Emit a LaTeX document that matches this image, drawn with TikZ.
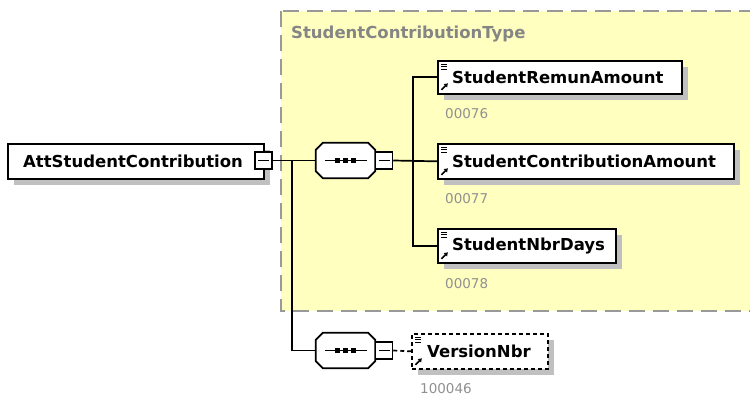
\documentclass[tikz,border=0pt]{standalone}
\usepackage{fontspec}
\setmainfont{DejaVu Sans}
\usetikzlibrary{shadows,calc,arrows.meta}
\definecolor{typebg}{HTML}{FFFFC0}
\definecolor{typeborder}{HTML}{999999}
\definecolor{titlegray}{HTML}{858585}
\definecolor{numgray}{HTML}{909090}
\definecolor{shadowgray}{HTML}{C0C0C0}
\tikzset{
  conn/.style={line width=1.7pt, black},
  optconn/.style={conn, dash pattern=on 4pt off 3pt},
  elembox/.style={draw, line width=1.7pt, fill=white, inner sep=0pt, anchor=north west,
    drop shadow={shadow xshift=6pt, shadow yshift=-6pt, fill=shadowgray, opacity=1}},
  elemicon/.style={path picture={
    \draw[line width=1pt, solid] ($(path picture bounding box.north west)+(3.5,3.2)$) -- +(6,0)
      ($(path picture bounding box.north west)+(3.5,5.8)$) -- +(6,0)
      ($(path picture bounding box.north west)+(3.5,8.4)$) -- +(6,0);
    \draw[line width=1.5pt, solid, -{Triangle[length=3.5pt,width=4.5pt]}]
      ($(path picture bounding box.south west)+(3.5,-4)$) -- +(6.5,-6.5);
  }},
  optbox/.style={elembox, dash pattern=on 4pt off 3pt},
  plainbox/.style={draw, line width=1.7pt, fill=white, inner sep=0pt, anchor=north west,
    drop shadow={shadow xshift=6pt, shadow yshift=-6pt, fill=shadowgray, opacity=1}},
  elemlabel/.style={anchor=west, inner sep=0pt, font=\fontsize{16.5}{19}\selectfont\bfseries},
  titlelabel/.style={anchor=west, inner sep=0pt, text=titlegray, font=\fontsize{16.5}{19}\selectfont\bfseries},
  numlabel/.style={anchor=west, inner sep=0pt, text=numgray, font=\fontsize{13.5}{15}\selectfont},
  minusbox/.style={draw, line width=1.5pt, fill=white, minimum width=17pt, minimum height=17pt, inner sep=0pt,
    path picture={\draw[line width=1.2pt] ($(path picture bounding box.west)+(3,0)$) -- ($(path picture bounding box.east)+(-3,0)$);}},
  seqnode/.style={minimum width=59pt, minimum height=35pt, inner sep=0pt},
  typebox/.style={draw=typeborder, fill=typebg, line width=1.5pt, dash pattern=on 16pt off 8pt},
}
\newcommand\octpath[1]{($(#1.north west)+(7,0)$) -- ($(#1.north east)+(-7,0)$) -- ($(#1.north east)+(0,7)$) -- ($(#1.south east)+(0,-7)$) -- ($(#1.south east)+(-7,0)$) -- ($(#1.south west)+(7,0)$) -- ($(#1.south west)+(0,-7)$) -- ($(#1.north west)+(0,7)$) -- cycle}
\newcommand\seqdraw[1]{%
  \begin{scope}[shift={(6,6)}]\fill[shadowgray] \octpath{#1};\end{scope}
  \draw[line width=1.7pt, fill=white] \octpath{#1};
  \draw[line width=1.4pt] ($(#1.west)+(9,0)$) -- ($(#1.east)+(-8,0)$);
  \foreach \dx in {-8,0,8} {\fill ($(#1.center)+(\dx-2.5,-2.5)$) rectangle +(5,5);}
}
\begin{document}
\begin{tikzpicture}[x=1pt, y=-1pt]
\useasboundingbox (0,0) rectangle (750,396);
\clip (0,0) rectangle (750,396);
\fill[white] (0,0) rectangle (750,396);
% complex type region
\draw[typebox] (281,11) rectangle (770,311);
\node[titlelabel] (typetitle) at (291,34) {StudentContributionType};
% root element
\node[plainbox, minimum width=256pt, minimum height=35pt] (att) at (7,143) {};
\node[elemlabel] (attt) at ($(att.west)+(16,0)$) {AttStudentContribution};
\node[minusbox] (attm) at (263.5,160.5) {};
% sequences
\node[seqnode] (seq1) at (345.5,160.5) {};
\node[seqnode] (seq2) at (345.5,350.5) {};
\seqdraw{seq1}
\seqdraw{seq2}
\node[minusbox] (seq1m) at (384,160.5) {};
\node[minusbox] (seq2m) at (384,350.5) {};
% child elements
\node[elembox, elemicon, minimum width=244pt, minimum height=33pt] (remun) at (437,60) {};
\node[elemlabel] (remunt) at ($(remun.west)+(15,0)$) {StudentRemunAmount};
\node[numlabel] (remunn) at ($(remun.south west)+(8,19)$) {00076};
\node[elembox, elemicon, minimum width=296pt, minimum height=35pt] (contrib) at (437,143) {};
\node[elemlabel] (contribt) at ($(contrib.west)+(15,0)$) {StudentContributionAmount};
\node[numlabel] (contribn) at ($(contrib.south west)+(8,19)$) {00077};
\node[elembox, elemicon, minimum width=178pt, minimum height=34pt] (days) at (437,228) {};
\node[elemlabel] (dayst) at ($(days.west)+(15,0)$) {StudentNbrDays};
\node[numlabel] (daysn) at ($(days.south west)+(8,20)$) {00078};
\node[optbox, elemicon, minimum width=136pt, minimum height=35pt] (version) at (411,333) {};
\node[elemlabel] (versiont) at ($(version.west)+(16,0)$) {VersionNbr};
\node[numlabel] (versionn) at ($(version.south west)+(9,19)$) {100046};
% connectors
\coordinate (br1) at ($(attm.east)+(19,0)$);
\coordinate (br2) at ($(seq1m.east)+(19.5,0)$);
\draw[conn] (attm.east) -- (seq1.west);
\draw[conn] (br1) |- (seq2.west);
\draw[conn] (seq1m.east) -- (contrib.west);
\draw[conn] (remun.west) -- (remun.west -| br2) -- (days.west -| br2) -- (days.west);
\draw[optconn] (seq2m.east) -- (version.west);
\end{tikzpicture}
\end{document}
